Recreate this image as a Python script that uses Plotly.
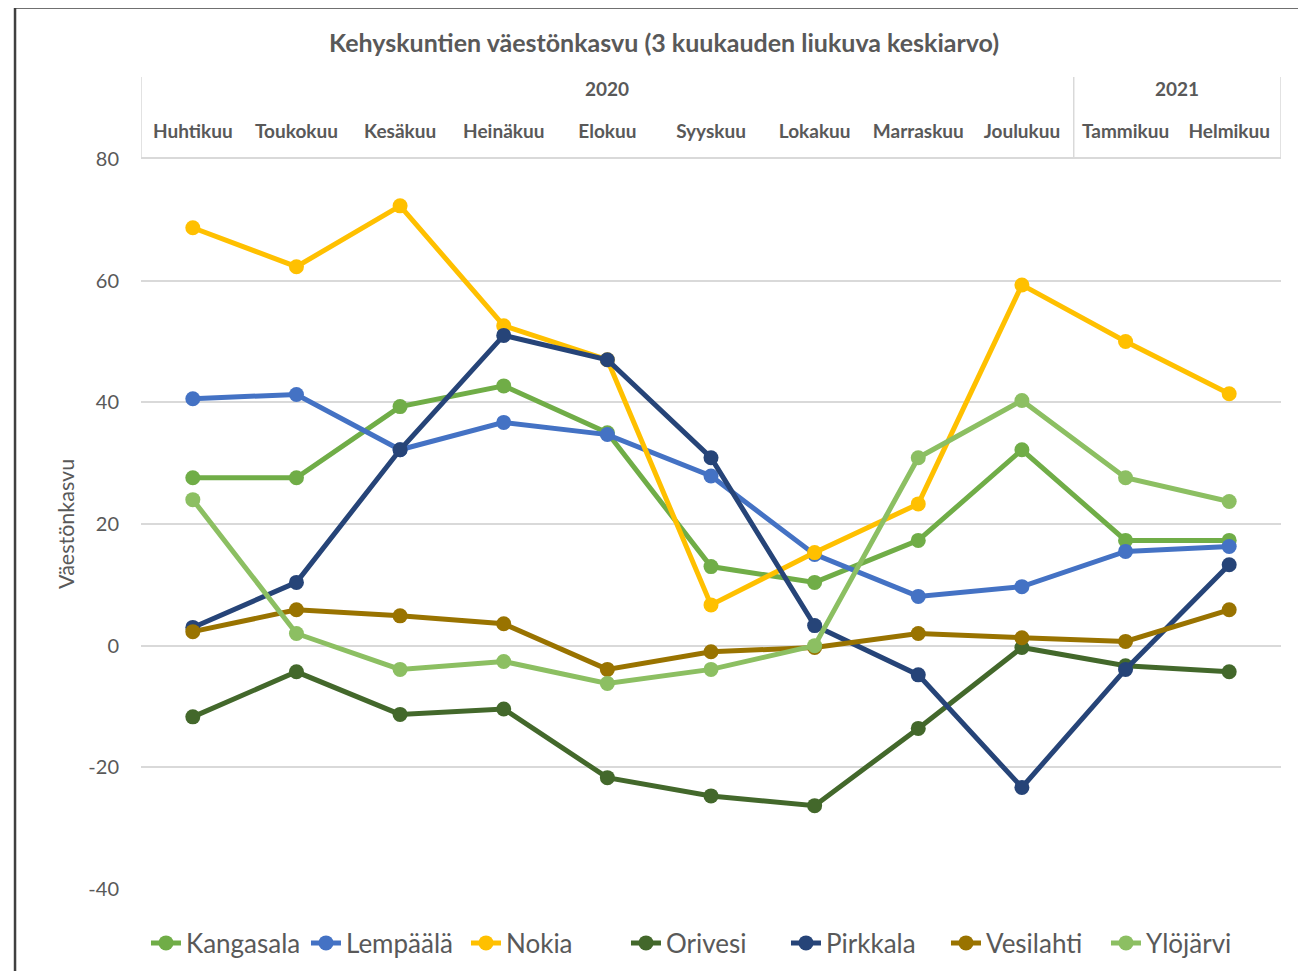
import plotly.graph_objects as go

months = ["Huhtikuu", "Toukokuu", "Kesäkuu", "Heinäkuu", "Elokuu", "Syyskuu",
          "Lokakuu", "Marraskuu", "Joulukuu", "Tammikuu", "Helmikuu"]
years = ["2020", "2021"]
year_counts = [9, 2]
y_ticks = [-40, -20, 0, 20, 40, 60, 80]
y_ticktext = ["-40", "-20", "0", "20", "40", "60", "80"]

kangasala = [27.6, 27.6, 39.3, 42.7, 35.0, 13.0, 10.4, 17.3, 32.2, 17.3, 17.3]
lempaala = [40.6, 41.3, 32.2, 36.7, 34.7, 27.9, 15.0, 8.1, 9.7, 15.5, 16.3]
nokia = [68.7, 62.3, 72.3, 52.6, 47.0, 6.7, 15.3, 23.3, 59.3, 50.0, 41.4]
orivesi = [-11.7, -4.3, -11.3, -10.4, -21.7, -24.7, -26.3, -13.6, -0.3, -3.3, -4.3]
pirkkala = [3.0, 10.4, 32.2, 51.0, 47.0, 30.9, 3.3, -4.8, -23.3, -3.9, 13.3]
vesilahti = [2.3, 5.9, 4.9, 3.6, -3.9, -1.0, -0.3, 2.0, 1.3, 0.7, 5.9]
ylojarvi = [24.0, 2.0, -3.9, -2.6, -6.2, -3.9, 0.0, 30.9, 40.3, 27.6, 23.7]

series = [
    ("Kangasala", kangasala, "#70AD47"),
    ("Lempäälä", lempaala, "#4472C4"),
    ("Nokia", nokia, "#FFC000"),
    ("Orivesi", orivesi, "#43682B"),
    ("Pirkkala", pirkkala, "#264478"),
    ("Vesilahti", vesilahti, "#997300"),
    ("Ylöjärvi", ylojarvi, "#8CBF62"),
]

FONT = "Lato"
GREY = "#595959"
x = list(range(len(months)))

fig = go.Figure()
for name, vals, col in series:
    fig.add_trace(go.Scatter(
        x=x, y=vals, name=name, mode="lines+markers",
        line=dict(color=col, width=5),
        marker=dict(color=col, size=15),
    ))

# The page has an 8px body margin; figure sized to fit inside the window.
fig.update_layout(
    width=1290, height=963,
    paper_bgcolor="white", plot_bgcolor="white",
    margin=dict(l=133, r=17, t=151, b=82, autoexpand=False),
    font=dict(family=FONT, color=GREY),
    showlegend=True,
    legend=dict(orientation="h", x=0.4956, xanchor="center", y=-0.074, yanchor="middle",
                font=dict(size=26, color=GREY, family=FONT), itemwidth=30,
                entrywidth=115, traceorder="normal"),
    xaxis=dict(range=[-0.5, 10.5], side="top", tickvals=x, ticktext=months,
               tickfont=dict(size=19, color=GREY, family=FONT, weight="bold"),
               showgrid=False, zeroline=False, showline=True, linecolor="#D9D9D9",
               linewidth=1.5, ticks="outside", ticklen=12, tickcolor="rgba(0,0,0,0)",
               fixedrange=True),
    yaxis=dict(range=[-40, 80], tickvals=y_ticks, ticktext=y_ticktext,
               showgrid=True, gridcolor="#D9D9D9",
               gridwidth=1.5, zeroline=False, showline=False,
               tickfont=dict(size=20, color=GREY, family=FONT),
               ticks="outside", ticklen=17, tickcolor="rgba(0,0,0,0)"),
)

# Title
fig.add_annotation(text="<b>Kehyskuntien väestönkasvu (3 kuukauden liukuva keskiarvo)</b>",
                   xref="paper", yref="paper", x=0.459, y=1.1605, showarrow=False,
                   font=dict(size=25, color=GREY, family=FONT), xanchor="center", yanchor="middle")
# Y title
fig.add_annotation(text="Väestönkasvu", xref="paper", yref="paper", x=-0.0658, y=0.5,
                   textangle=-90, showarrow=False, font=dict(size=21.5, color=GREY, family=FONT),
                   xanchor="center", yanchor="middle")

# Year group labels and dividers
start = 0
ytop = 1.1123
fig.add_shape(type="line", xref="x", yref="paper", x0=-0.5, x1=-0.5, y0=1.0, y1=ytop,
              line=dict(color="#D9D9D9", width=1.5))
for yr, cnt in zip(years, year_counts):
    center = start + (cnt - 1) / 2
    fig.add_annotation(text="<b>%s</b>" % yr, xref="x", yref="paper", x=center, y=1.0959,
                       showarrow=False, font=dict(size=19, color=GREY, family=FONT),
                       yanchor="middle")
    end = start + cnt - 0.5
    fig.add_shape(type="line", xref="x", yref="paper", x0=end, x1=end, y0=1.0, y1=ytop,
                  line=dict(color="#D9D9D9", width=1.5))
    start += cnt

# Chart border (top and left)
fig.add_shape(type="line", xref="paper", yref="paper", x0=-0.1105, x1=1.05, y0=1.2075, y1=1.2075,
              line=dict(color="#404040", width=2.5))
fig.add_shape(type="line", xref="paper", yref="paper", x0=-0.1105, x1=-0.1105, y0=1.2075, y1=-0.15,
              line=dict(color="#404040", width=2.5))

fig.write_html("out.html")
